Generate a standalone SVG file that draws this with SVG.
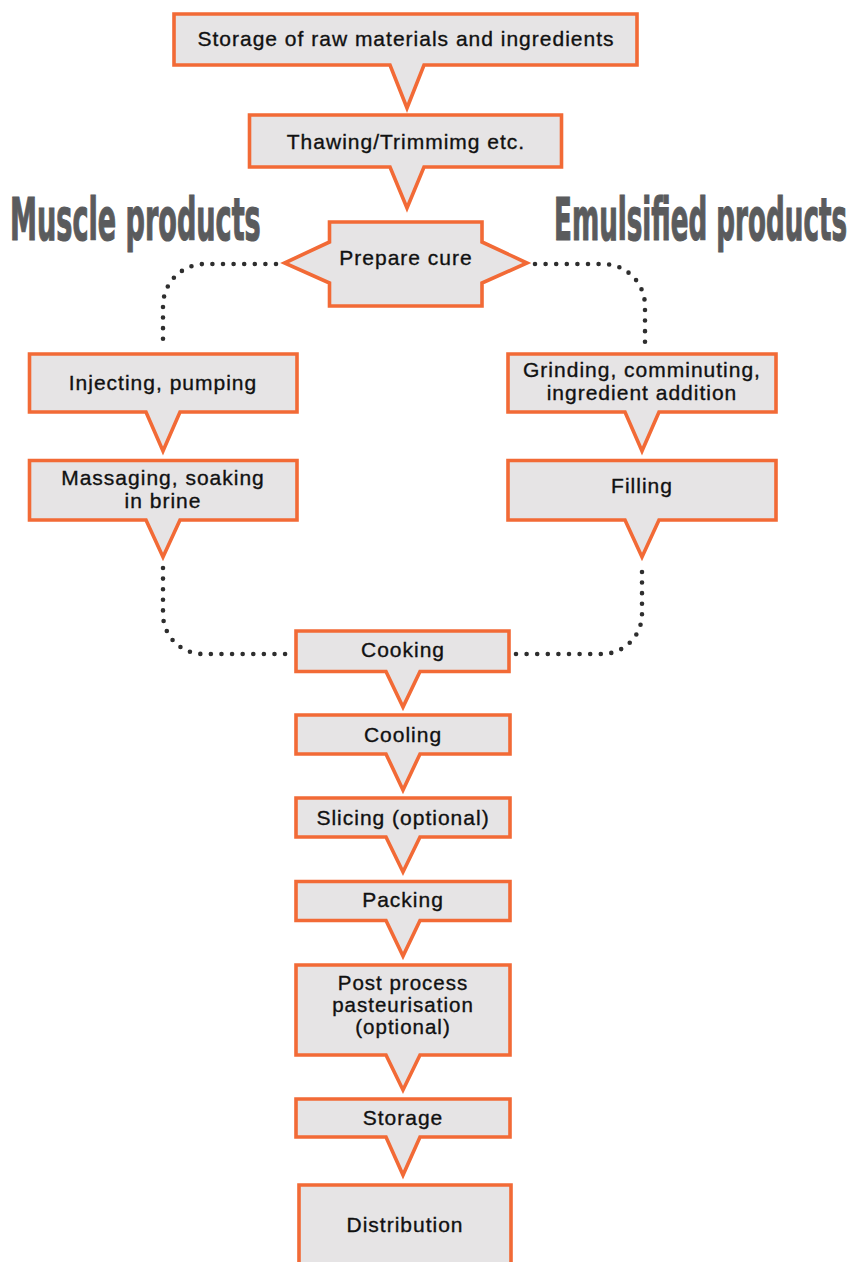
<svg xmlns="http://www.w3.org/2000/svg" width="852" height="1262" viewBox="0 0 852 1262">
  <defs>
    <style>
      .box { fill: #E6E4E5; stroke: #F26A36; stroke-width: 3.6; stroke-linejoin: miter; stroke-miterlimit: 10; }
      .lbl { font-family: "Liberation Sans", Arial, sans-serif; font-size: 21px; letter-spacing: 1px; fill: #111; stroke: #111; stroke-width: 0.35; text-anchor: middle; }
      .sm { font-size: 20.5px; }
      .head { font-family: "Liberation Sans Narrow", "DejaVu Sans Condensed", "Liberation Sans", sans-serif; font-weight: bold; font-size: 58px; fill: #5A5B5D; stroke: #5A5B5D; stroke-width: 1.2; }
      .dots { fill: none; stroke: #2E2E2E; stroke-width: 4.6; stroke-linecap: round; stroke-dasharray: 0 10.6; }
    </style>
  </defs>

  <rect width="852" height="1262" fill="#FFFFFF"/>

  <!-- section headings, condensed horizontally -->
  <text class="head" transform="translate(10 240) scale(0.59 1)" textLength="425" lengthAdjust="spacingAndGlyphs">Muscle products</text>
  <text class="head" transform="translate(554 240) scale(0.5 1)" textLength="586" lengthAdjust="spacingAndGlyphs">Emulsified products</text>

  <!-- dotted branch connectors -->
  <g id="connectors">
    <path class="dots" d="M276 264 H205 A42 42 0 0 0 163 306 V344"/>
    <path class="dots" d="M535 264 H603 A42 42 0 0 1 645 306 V344"/>
    <path class="dots" d="M163 568 V614 A40 40 0 0 0 203 654 H287"/>
    <path class="dots" d="M516 654 H602 A40 40 0 0 0 642 614 V568"/>
  </g>

  <g id="storage-raw">
    <path class="box" d="M174 14 H637 V65 H424 L407 108 L390 65 H174 Z"/>
    <text class="lbl" x="406" y="46">Storage of raw materials and ingredients</text>
  </g>

  <g id="thawing">
    <path class="box" d="M249.5 115 H561.5 V167 H424 L407 208 L390 167 H249.5 Z"/>
    <text class="lbl" x="406" y="149">Thawing/Trimmimg etc.</text>
  </g>

  <g id="prepare-cure">
    <path class="box" d="M329.5 222 H482 V242 L527 263 L482 283 V306 H329.5 V283 L284.5 263 L329.5 242 Z"/>
    <text class="lbl" x="406" y="265">Prepare cure</text>
  </g>

  <g id="injecting">
    <path class="box" d="M29.5 354 H297 V412 H180 L163 451 L146 412 H29.5 Z"/>
    <text class="lbl" x="163" y="390">Injecting, pumping</text>
  </g>

  <g id="massaging">
    <path class="box" d="M29.5 460.5 H297 V520 H180 L163 557 L146 520 H29.5 Z"/>
    <text class="lbl" x="163" y="485">Massaging, soaking</text>
    <text class="lbl" x="163" y="508">in brine</text>
  </g>

  <g id="grinding">
    <path class="box" d="M508 354 H776 V412 H659 L642 451 L625 412 H508 Z"/>
    <text class="lbl" x="642" y="377">Grinding, comminuting,</text>
    <text class="lbl" x="642" y="400">ingredient addition</text>
  </g>

  <g id="filling">
    <path class="box" d="M508 460.5 H776 V520 H659 L642 557 L625 520 H508 Z"/>
    <text class="lbl" x="642" y="493">Filling</text>
  </g>

  <g id="cooking">
    <path class="box" d="M296 631 H509 V671.5 H420 L403 707 L386 671.5 H296 Z"/>
    <text class="lbl" x="403" y="657">Cooking</text>
  </g>

  <g id="cooling">
    <path class="box" d="M296 715 H510 V754 H420 L403 790 L386 754 H296 Z"/>
    <text class="lbl" x="403" y="742">Cooling</text>
  </g>

  <g id="slicing">
    <path class="box" d="M296 798 H510 V837 H420 L403 872 L386 837 H296 Z"/>
    <text class="lbl" x="403" y="825">Slicing (optional)</text>
  </g>

  <g id="packing">
    <path class="box" d="M296 881.5 H510 V920.5 H420 L403 956 L386 920.5 H296 Z"/>
    <text class="lbl" x="403" y="907">Packing</text>
  </g>

  <g id="pasteurisation">
    <path class="box" d="M296 965 H510 V1055 H420 L403 1090 L386 1055 H296 Z"/>
    <text class="lbl sm" x="403" y="990">Post process</text>
    <text class="lbl sm" x="403" y="1012">pasteurisation</text>
    <text class="lbl sm" x="403" y="1034">(optional)</text>
  </g>

  <g id="storage">
    <path class="box" d="M296 1099 H510 V1137 H420 L403 1175 L386 1137 H296 Z"/>
    <text class="lbl" x="403" y="1125">Storage</text>
  </g>

  <g id="distribution">
    <path class="box" d="M299 1185 H511 V1270 H299 Z"/>
    <text class="lbl" x="405" y="1232">Distribution</text>
  </g>
</svg>
